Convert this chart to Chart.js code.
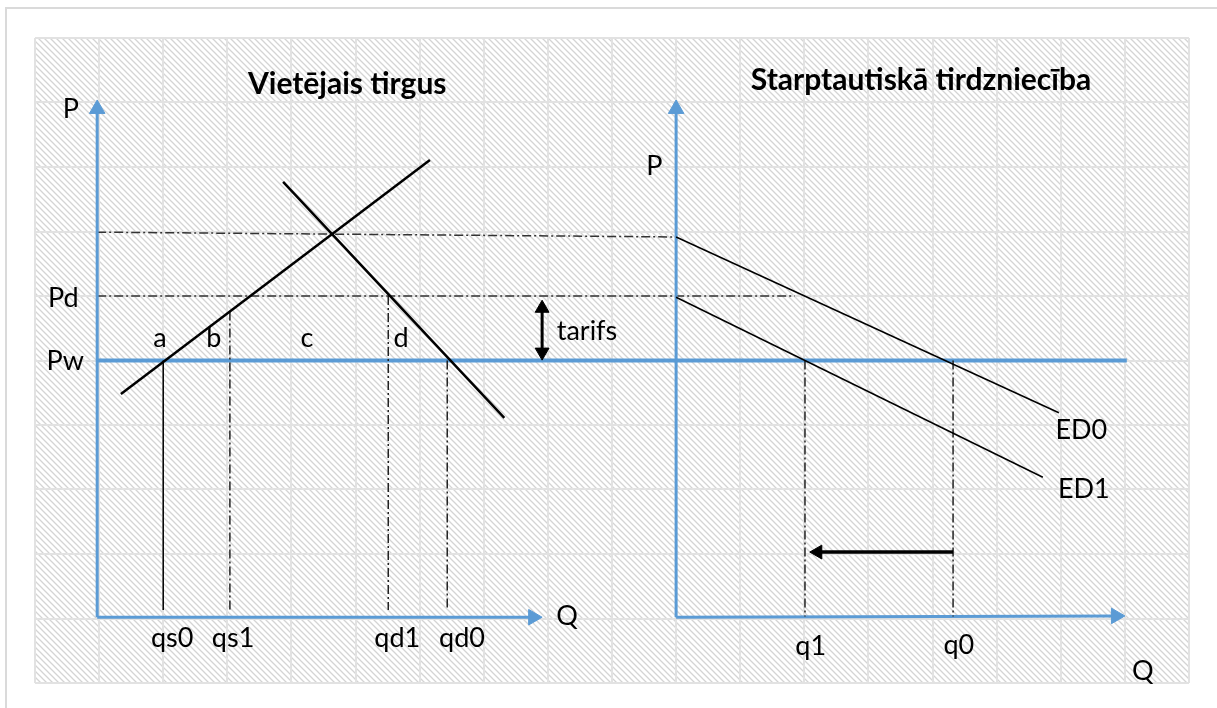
<!DOCTYPE html>
<html>
<head>
<meta charset="utf-8">
<script src="https://cdn.jsdelivr.net/npm/chart.js@4"></script>
<style>
  html, body { margin: 0; padding: 0; background: #fff; overflow: hidden; }
  #frame { position: absolute; left: 5px; top: 7px; width: 1300px; height: 800px; border: 2px solid #dadada; }
  #chart { position: absolute; left: 0; top: 0; }
</style>
</head>
<body>
<div id="frame"></div>
<canvas id="chart" width="1217" height="708"></canvas>
<script>
// Diagram coordinates: x = grid columns (0..18), y = grid rows (0..10)

// blue axes and world price
const leftPAxis = [{x: 0.97, y: 1.02}, {x: 0.97, y: 8.9}];
const leftQAxis = [{x: 0.97, y: 1.02}, {x: 7.77, y: 1.02}];
const rightPAxis = [{x: 10.0, y: 1.02}, {x: 10.0, y: 8.9}];
const rightQAxis = [{x: 10.0, y: 1.02}, {x: 16.86, y: 1.04}];
const worldPrice = [{x: 0.97, y: 5.0}, {x: 17.03, y: 5.0}];

// supply / demand and excess demand curves
const supply = [{x: 1.34, y: 4.48}, {x: 6.16, y: 8.11}];
const demand = [{x: 3.87, y: 7.77}, {x: 7.32, y: 4.11}];
const ed0 = [{x: 10.0, y: 6.915}, {x: 15.97, y: 4.19}];
const ed1 = [{x: 10.0, y: 5.98}, {x: 15.72, y: 3.19}];

// guide lines
const topGuide = [{x: 0.97, y: 6.99}, {x: 10.0, y: 6.915}];
const pdGuide = [{x: 0.97, y: 6.0}, {x: 11.85, y: 6.0}];
const qs0Drop = [{x: 2.0, y: 5.0}, {x: 2.0, y: 1.13}];
const qs1Drop = [{x: 3.04, y: 5.76}, {x: 3.04, y: 1.13}];
const qd1Drop = [{x: 5.51, y: 6.0}, {x: 5.51, y: 1.13}];
const qd0Drop = [{x: 6.43, y: 5.0}, {x: 6.43, y: 1.13}];
const q1Drop = [{x: 12.01, y: 5.0}, {x: 12.01, y: 1.03}];
const q0Drop = [{x: 14.32, y: 5.0}, {x: 14.32, y: 1.03}];

// black arrows
const tariffArrow = [{x: 7.91, y: 5.13}, {x: 7.91, y: 5.81}];
const shiftArrow = [{x: 14.32, y: 2.03}, {x: 12.21, y: 2.03}];

// texts
const panelTitles = [
    {text: 'Vietējais tirgus', x: 4.87, y: 9.13},
    {text: 'Starptautiskā tirdzniecība', x: 13.82, y: 9.19}
];
const textLabels = [
    {text: 'P', x: 0.56, y: 8.76},
    {text: 'P', x: 9.66, y: 7.88},
    {text: 'Pd', x: 0.44, y: 5.83},
    {text: 'Pw', x: 0.47, y: 4.85},
    {text: 'a', x: 1.95, y: 5.21},
    {text: 'b', x: 2.79, y: 5.21},
    {text: 'c', x: 4.24, y: 5.21},
    {text: 'd', x: 5.71, y: 5.21},
    {text: 'tarifs', x: 8.61, y: 5.32},
    {text: 'Q', x: 8.30, y: 0.9},
    {text: 'qs0', x: 2.14, y: 0.56},
    {text: 'qs1', x: 3.09, y: 0.56},
    {text: 'qd1', x: 5.65, y: 0.56},
    {text: 'qd0', x: 6.66, y: 0.56},
    {text: 'q1', x: 12.10, y: 0.43},
    {text: 'q0', x: 14.41, y: 0.45},
    {text: 'Q', x: 17.28, y: 0.05},
    {text: 'ED0', x: 16.32, y: 3.78},
    {text: 'ED1', x: 16.36, y: 2.87}
];

const BLUE = '#5b9bd5';
const DASHDOT = [9, 3, 2, 3];

function seg(data, color, width, extra) {
    return Object.assign({
        type: 'line',
        data: data,
        borderColor: color,
        backgroundColor: color,
        borderWidth: width,
        pointRadius: 0,
        showLine: true,
        fill: false,
        tension: 0,
        clip: false
    }, extra || {});
}

function arrowEnd(rotation, size) {
    return {
        pointStyle: 'triangle',
        pointRadius: [0, size],
        pointRotation: [0, rotation],
        pointBorderWidth: 1
    };
}

// Hatched background behind the grid
const hatchPlugin = {
    id: 'hatch',
    beforeDraw(chart) {
        const {ctx, chartArea: a} = chart;
        const tile = document.createElement('canvas');
        tile.width = 6;
        tile.height = 6;
        const t = tile.getContext('2d');
        t.fillStyle = '#ffffff';
        t.fillRect(0, 0, 6, 6);
        t.strokeStyle = '#d4d4d4';
        t.lineWidth = 1.3;
        t.beginPath();
        t.moveTo(-1, -1); t.lineTo(7, 7);
        t.moveTo(-4, 2); t.lineTo(4, 10);
        t.moveTo(2, -4); t.lineTo(10, 4);
        t.stroke();
        ctx.save();
        ctx.fillStyle = ctx.createPattern(tile, 'repeat');
        ctx.fillRect(a.left, a.top, a.right - a.left, a.bottom - a.top);
        ctx.restore();
    }
};

// Text annotations placed on the diagram scales
const textPlugin = {
    id: 'texts',
    afterDatasetsDraw(chart) {
        const {ctx, scales: {x, y}} = chart;
        ctx.save();
        ctx.fillStyle = '#000';
        ctx.textAlign = 'center';
        ctx.textBaseline = 'alphabetic';
        ctx.font = 'bold 30px Lato';
        panelTitles.forEach(l => ctx.fillText(l.text, x.getPixelForValue(l.x), y.getPixelForValue(l.y)));
        ctx.font = '27px Lato';
        textLabels.forEach(l => ctx.fillText(l.text, x.getPixelForValue(l.x), y.getPixelForValue(l.y)));
        ctx.restore();
    }
};

new Chart(document.getElementById('chart').getContext('2d'), {
    type: 'scatter',
    data: {
        datasets: [
            seg(tariffArrow, '#000', 3, {pointStyle: 'triangle', pointRadius: 8, pointRotation: [180, 0], pointBorderWidth: 1}),
            seg(shiftArrow, '#000', 3.5, arrowEnd(270, 8)),
            seg(supply, '#000', 2.5),
            seg(demand, '#000', 2.5),
            seg(ed0, '#000', 1.5),
            seg(ed1, '#000', 1.5),
            seg(qs0Drop, '#000', 1.5),
            seg(qs1Drop, '#222', 1.5, {borderDash: DASHDOT}),
            seg(qd1Drop, '#222', 1.5, {borderDash: DASHDOT}),
            seg(qd0Drop, '#222', 1.5, {borderDash: DASHDOT}),
            seg(q1Drop, '#222', 1.5, {borderDash: DASHDOT}),
            seg(q0Drop, '#222', 1.5, {borderDash: DASHDOT}),
            seg(worldPrice, BLUE, 4),
            seg(leftPAxis, BLUE, 3, arrowEnd(0, 9)),
            seg(leftQAxis, BLUE, 3, arrowEnd(90, 9)),
            seg(rightPAxis, BLUE, 3, arrowEnd(0, 9)),
            seg(rightQAxis, BLUE, 3, arrowEnd(90, 9)),
            seg(topGuide, '#333', 1.5, {borderDash: DASHDOT}),
            seg(pdGuide, '#333', 1.5, {borderDash: DASHDOT})
        ]
    },
    options: {
        responsive: false,
        devicePixelRatio: 1,
        animation: false,
        events: [],
        layout: {padding: {left: 35, right: 28, top: 38, bottom: 25}},
        plugins: {
            legend: {display: false},
            tooltip: {enabled: false},
            title: {display: false}
        },
        scales: {
            x: {
                type: 'linear',
                min: 0,
                max: 18,
                ticks: {display: false, stepSize: 1},
                grid: {color: '#e2e2e2', lineWidth: 2, drawTicks: false},
                border: {display: false}
            },
            y: {
                type: 'linear',
                min: 0,
                max: 10,
                ticks: {display: false, stepSize: 1},
                grid: {color: '#e2e2e2', lineWidth: 2, drawTicks: false},
                border: {display: false}
            }
        }
    },
    plugins: [hatchPlugin, textPlugin]
});
</script>
</body>
</html>
